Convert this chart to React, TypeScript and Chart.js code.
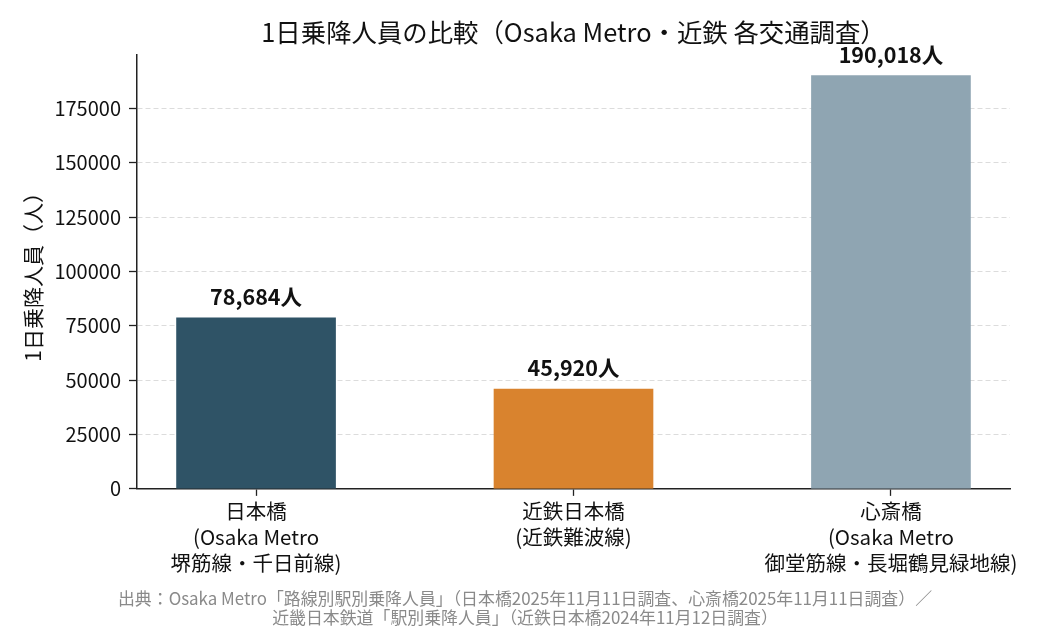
import { useEffect, useRef } from "react";
import { Chart, registerables } from "chart.js";

Chart.register(...registerables);

const FONT = "'Noto Sans CJK JP', 'Noto Sans', sans-serif";

const STATIONS: string[][] = [
  ["日本橋", "(Osaka Metro", "堺筋線・千日前線)"],
  ["近鉄日本橋", "(近鉄難波線)"],
  ["心斎橋", "(Osaka Metro", "御堂筋線・長堀鶴見緑地線)"],
];
const RIDERS = [78684, 45920, 190018];
const BAR_COLORS = ["#2f5366", "#d9832e", "#8fa5b2"];
const Y_TICKS = [0, 25000, 50000, 75000, 100000, 125000, 150000, 175000];

const TITLE = "1日乗降人員の比較（Osaka Metro・近鉄 各交通調査）";
const Y_LABEL = "1日乗降人員（人）";
const SOURCE = [
  "出典：Osaka Metro「路線別駅別乗降人員」（日本橋2025年11月11日調査、心斎橋2025年11月11日調査）／",
  "近畿日本鉄道「駅別乗降人員」（近鉄日本橋2024年11月12日調査）",
];

const barValueLabels = {
  id: "barValueLabels",
  afterDatasetsDraw(chart: any) {
    const ctx = chart.ctx;
    const meta = chart.getDatasetMeta(0);
    ctx.save();
    ctx.font = `bold 21.5px ${FONT}`;
    ctx.fillStyle = "#111";
    ctx.textAlign = "center";
    ctx.textBaseline = "middle";
    meta.data.forEach((bar: any, i: number) => {
      ctx.fillText(RIDERS[i].toLocaleString("en-US") + "人", bar.x, bar.y - 21);
    });
    ctx.restore();
  },
};

export default function App() {
  const canvasRef = useRef<HTMLCanvasElement>(null);

  useEffect(() => {
    document.body.style.margin = "0";
    if (!canvasRef.current) return;

    const chart = new Chart(canvasRef.current, {
      type: "bar",
      data: {
        datasets: [
          {
            data: RIDERS.map((v, i) => ({ x: i, y: v })) as any,
            backgroundColor: BAR_COLORS,
            barThickness: 159,
          },
        ],
      },
      plugins: [barValueLabels],
      options: {
        animation: false,
        responsive: true,
        maintainAspectRatio: false,
        layout: { padding: { left: 20, right: 20, top: 0, bottom: 0 } },
        plugins: {
          legend: { display: false },
          tooltip: { enabled: false },
          title: {
            display: true,
            text: TITLE,
            fullSize: false,
            color: "#111",
            font: { family: FONT, size: 25.4, weight: "normal", lineHeight: 1.2 },
            padding: { top: 17, bottom: 7.5 },
          },
          subtitle: {
            display: true,
            position: "bottom",
            text: SOURCE,
            color: "#8a8a8a",
            font: { family: FONT, size: 16.9, lineHeight: 1.14 },
            padding: { top: 4, bottom: 3 },
          },
        },
        scales: {
          x: {
            type: "linear",
            min: -0.375,
            max: 2.375,
            offset: false,
            afterFit(scale: any) {
              scale.height = 95.6;
            },
            afterBuildTicks(scale: any) {
              scale.ticks = STATIONS.map((_, i) => ({ value: i }));
            },
            ticks: {
              autoSkip: false,
              maxRotation: 0,
              padding: 3,
              color: "#111",
              font: { family: FONT, size: 20.5, lineHeight: 1.25 },
              callback: (v: any) => STATIONS[Number(v)],
            },
            grid: {
              offset: false,
              drawOnChartArea: false,
              drawTicks: true,
              tickLength: 7,
              tickColor: "#222",
              tickWidth: 1.3,
            },
            border: { display: true, color: "#222", width: 1.5 },
          },
          y: {
            min: 0,
            max: 190018 * 1.05,
            afterFit(scale: any) {
              scale.width = 117;
            },
            afterBuildTicks(scale: any) {
              scale.ticks = Y_TICKS.map((v) => ({ value: v }));
            },
            title: {
              display: true,
              text: Y_LABEL,
              color: "#111",
              font: { family: FONT, size: 21, lineHeight: 1.2 },
              padding: { top: 0, bottom: 0 },
            },
            ticks: {
              padding: 8,
              color: "#111",
              font: { family: FONT, size: 20 },
              callback: (v: any) => String(v),
            },
            grid: {
              color: "#dcdcdc",
              lineWidth: 1,
              drawTicks: true,
              tickLength: 8,
              tickColor: "#222",
              tickWidth: 1.3,
              tickBorderDash: [],
            },
            border: { display: true, color: "#222", width: 1.5, dash: [5, 3] },
          },
          // empty right-hand gutter so the plot ends where the reference does
          gutter: {
            type: "linear",
            position: "right",
            display: true,
            afterFit(scale: any) {
              scale.width = 20;
            },
            ticks: { display: false },
            grid: { display: false, drawTicks: false },
            border: { display: false },
          },
        },
      },
    });

    return () => chart.destroy();
  }, []);

  return (
    <div style={{ position: "relative", width: 1050, height: 630, background: "#fff" }}>
      <canvas ref={canvasRef} />
    </div>
  );
}
